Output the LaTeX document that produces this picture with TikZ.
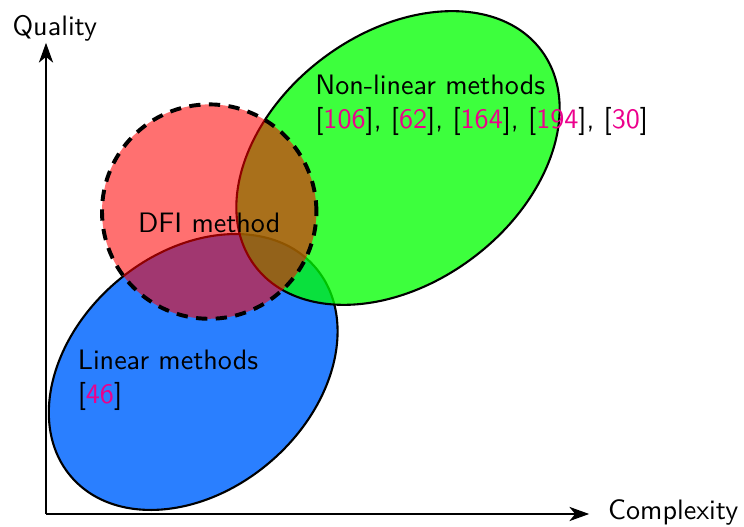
\documentclass[tikz,border=0pt]{standalone}
\usepackage{tikz}
\usetikzlibrary{arrows.meta}
\definecolor{linblue}{RGB}{42,127,255}
\definecolor{citepink}{RGB}{236,0,140}

\begin{document}
\begin{tikzpicture}[font=\sffamily,
  setline/.style={draw=black, line width=0.75pt},
  axisline/.style={line width=1pt, -{Stealth[length=7pt, width=5pt, inset=2pt]}},
  label/.style={inner sep=0pt, align=left}]
\useasboundingbox (-0.575,-0.1625) rectangle (8.725,6.425);
% Linear methods
\draw[setline, fill=linblue, shift={(1.84,1.775)}, rotate=40.6] (0,0) ellipse (2.01 and 1.48);
% Non-linear methods
\draw[setline, fill=green, fill opacity=0.76, shift={(4.4,4.45)}, rotate=37] (0,0) ellipse (2.24 and 1.56);
% DFI method
\fill[red, fill opacity=0.56] (2.04,3.78) circle (1.34);
\draw[line width=1.4pt, dash pattern=on 4pt off 3pt] (2.04,3.78) circle (1.34);
% Labels
\node[label, anchor=west] (nonlin) at (3.36,5.11) {Non-linear methods\\{}[\textcolor{citepink}{106}], [\textcolor{citepink}{62}], [\textcolor{citepink}{164}], [\textcolor{citepink}{194}], [\textcolor{citepink}{30}]};
\node[label, anchor=west] (lin) at (0.39,1.675) {Linear methods\\{}[\textcolor{citepink}{46}]};
\node[label] (dfi) at (2.04,3.64) {DFI method};
% Axes
\coordinate (origin) at (0,0);
\coordinate (xend) at (6.79,0);
\coordinate (yend) at (0,5.89);
\draw[axisline] (origin) -- (xend);
\draw[axisline] (origin) -- (yend);
\node (quality) at (0.11,6.075) {Quality};
\node (complexity) at (7.84,0.025) {Complexity};
\end{tikzpicture}
\end{document}
